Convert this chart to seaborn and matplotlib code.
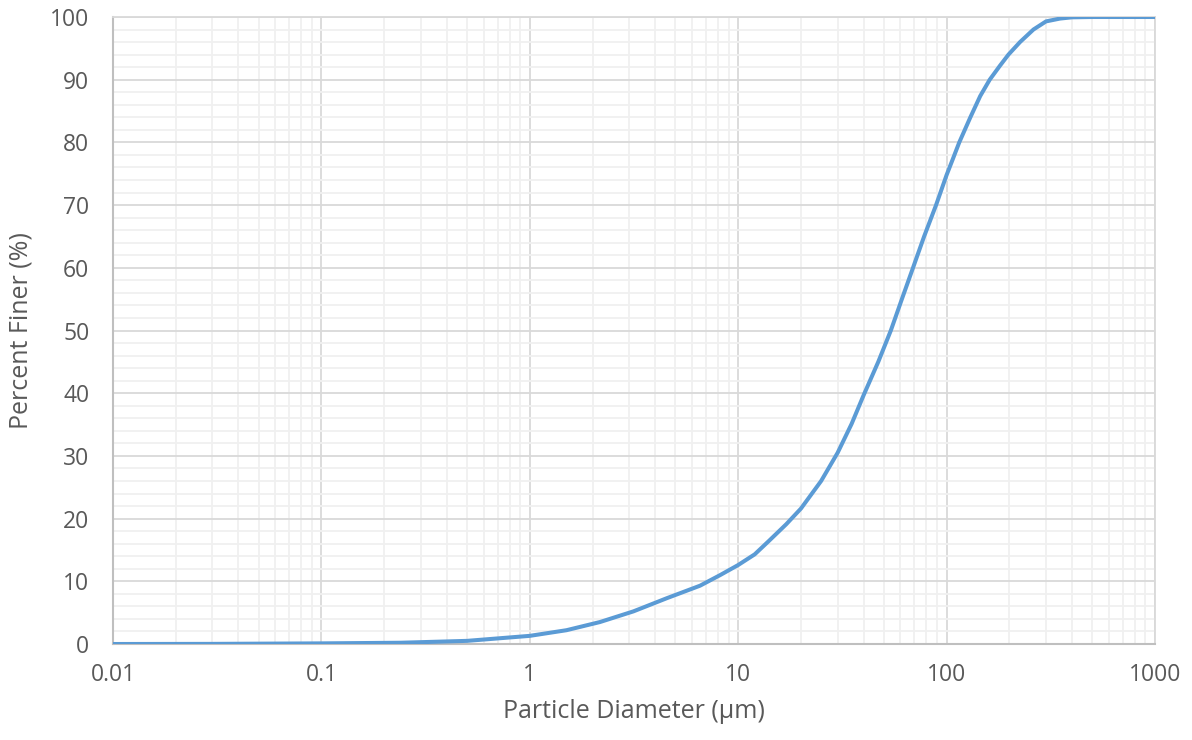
import numpy as np
import pandas as pd
import matplotlib
matplotlib.use("Agg")
import matplotlib.pyplot as plt
from matplotlib.ticker import LogLocator, FixedLocator, FixedFormatter, NullFormatter
import seaborn as sns

# Cumulative particle size distribution
diameter_um = [0.01, 0.03, 0.1, 0.24, 0.5, 1.0, 1.5, 2.17, 3.14, 4.54, 6.56, 8.2,
               10.0, 12.0, 14.0, 17.0, 20.0, 25.0, 30.0, 35.0, 40.0, 47.0, 54.0,
               61.0, 69.0, 78.0, 89.0, 100.0, 107.0, 115.0, 130.0, 145.0, 161.0,
               180.0, 198.0, 225.0, 261.0, 300.0, 350.0, 400.0, 500.0, 1000.0]
percent_finer = [0.0, 0.02, 0.1, 0.2, 0.5, 1.3, 2.2, 3.5, 5.2, 7.3, 9.3, 11.0,
                 12.6, 14.3, 16.4, 19.1, 21.6, 26.0, 30.5, 35.1, 39.7, 45.0, 50.0,
                 55.0, 60.0, 65.0, 70.0, 74.8, 77.3, 80.0, 84.0, 87.4, 90.0,
                 92.2, 94.0, 96.0, 98.0, 99.3, 99.75, 99.95, 100.0, 100.0]

x_ticks = [0.01, 0.1, 1, 10, 100, 1000]
x_tick_labels = ["0.01", "0.1", "1", "10", "100", "1000"]
y_ticks = [0, 10, 20, 30, 40, 50, 60, 70, 80, 90, 100]

df = pd.DataFrame({"diameter": diameter_um, "finer": percent_finer})

sns.set_theme(style="white")
plt.rcParams["font.family"] = ["Open Sans", "DejaVu Sans"]

text_color = "#595959"
fig = plt.figure(figsize=(11.92, 7.40), dpi=100)
ax = fig.add_axes([113 / 1192, 96 / 740, (1155 - 113) / 1192, (644 - 17) / 740])

sns.lineplot(data=df, x="diameter", y="finer", ax=ax, color="#5B9BD5",
             linewidth=2.9, zorder=3)

ax.set_xscale("log")
ax.set_xlim(0.01, 1000)
ax.set_ylim(0, 100)

ax.xaxis.set_major_locator(FixedLocator(x_ticks))
ax.xaxis.set_major_formatter(FixedFormatter(x_tick_labels))
ax.xaxis.set_minor_locator(LogLocator(base=10, subs=np.arange(2, 10), numticks=50))
ax.xaxis.set_minor_formatter(NullFormatter())
ax.yaxis.set_major_locator(FixedLocator(y_ticks))
ax.yaxis.set_minor_locator(FixedLocator(list(range(0, 101, 2))))

ax.grid(which="major", color="#D9D9D9", linewidth=1.3, zorder=1)
ax.grid(which="minor", color="#F0F0F0", linewidth=1.3, zorder=0)
ax.set_axisbelow(True)

for side in ["top", "right"]:
    ax.spines[side].set_color("#D9D9D9")
    ax.spines[side].set_linewidth(1.3)
for side in ["left", "bottom"]:
    ax.spines[side].set_color("#BFBFBF")
    ax.spines[side].set_linewidth(1.5)

ax.tick_params(axis="both", which="both", length=0, labelsize=16.5,
               labelcolor=text_color)
ax.tick_params(axis="x", pad=14)
ax.tick_params(axis="y", pad=17)

ax.set_xlabel("Particle Diameter (µm)", fontsize=18, color=text_color, labelpad=8)
ax.set_ylabel("Percent Finer (%)", fontsize=18, color=text_color, labelpad=12)

fig.savefig("out.png", dpi=100, facecolor="white")
